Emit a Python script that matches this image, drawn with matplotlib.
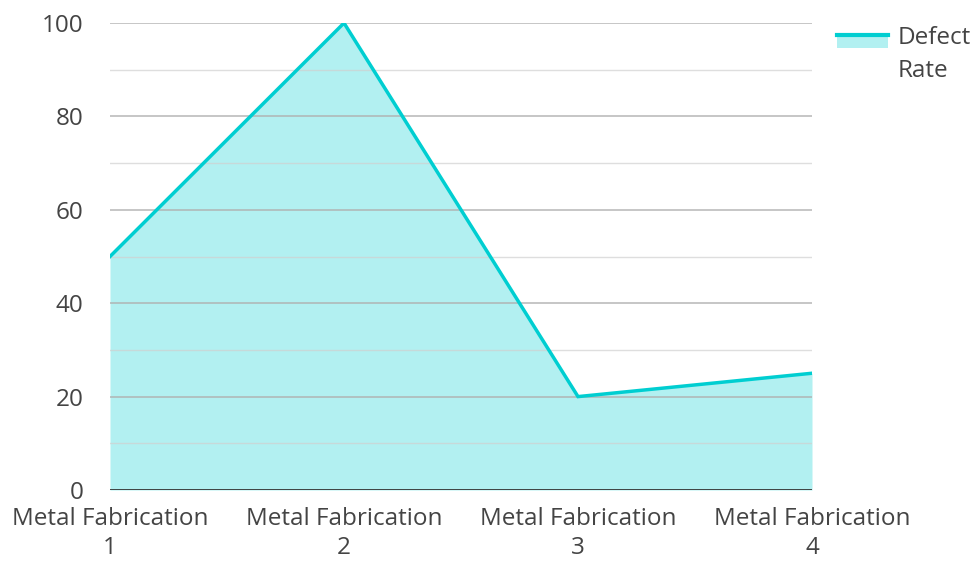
import numpy as np
import matplotlib.pyplot as plt
from matplotlib.legend_handler import HandlerBase
from matplotlib.patches import Rectangle
from matplotlib.lines import Line2D

plt.rcParams['font.family'] = ['Open Sans', 'DejaVu Sans']

categories = ['Metal Fabrication\n1', 'Metal Fabrication\n2', 'Metal Fabrication\n3', 'Metal Fabrication\n4']
defect_rate = [50, 100, 20, 25]
series_name = 'Defect\nRate'

line_color = '#00CED1'
fill_color = '#B2F0F1'
text_color = '#444444'


class AreaHandler(HandlerBase):
    # legend key: coloured line on top of a light filled block
    def create_artists(self, legend, orig_handle, xdescent, ydescent, width, height, fontsize, trans):
        top = height + 8.2
        rect = Rectangle((-xdescent, -ydescent + top - 9.5), width, 9.5, facecolor=fill_color,
                         edgecolor='none', transform=trans)
        ln = Line2D([-xdescent, -xdescent + width], [-ydescent + top, -ydescent + top],
                    color=line_color, lw=3, transform=trans)
        return [rect, ln]


fig = plt.figure(figsize=(9.75, 5.62), dpi=100)
ax = fig.add_axes([110 / 975, 1 - 490 / 562, 702 / 975, 467 / 562])

x = np.arange(len(categories))
ax.fill_between(x, 0, defect_rate, color=fill_color, lw=0, zorder=1)
ax.plot(x, defect_rate, color=line_color, lw=2.5, zorder=3, solid_joinstyle='miter')

for yv in range(10, 101, 10):
    if yv % 20 == 0:
        ax.axhline(yv, color='#b0b0b0', lw=1.2, zorder=2, alpha=0.85)
    else:
        ax.axhline(yv, color='#d0d0d0', lw=1.0, zorder=2, alpha=0.7)

ax.axhline(0, color='#333333', lw=2, zorder=4)

ax.set_xlim(0, len(categories) - 1)
ax.set_ylim(0, 100)
ax.set_yticks(range(0, 101, 20))
ax.set_xticks(x)
ax.set_xticklabels(categories)
ax.tick_params(axis='both', length=0, labelsize=17.5, labelcolor=text_color)
ax.tick_params(axis='y', pad=19)
ax.tick_params(axis='x', pad=12)
for lbl in ax.get_xticklabels():
    lbl.set_linespacing(1.3)
for s in ax.spines.values():
    s.set_visible(False)

proxy = Line2D([], [], color=line_color)
leg = fig.legend([proxy], [series_name], handler_map={Line2D: AreaHandler()},
                 loc='upper left', bbox_to_anchor=(815 / 975, 1 - 4 / 562),
                 frameon=False, fontsize=17.5, handlelength=2.1, handletextpad=0.4,
                 labelcolor=text_color)
for t in leg.get_texts():
    t.set_linespacing(1.5)

fig.savefig('out.png', dpi=100)
